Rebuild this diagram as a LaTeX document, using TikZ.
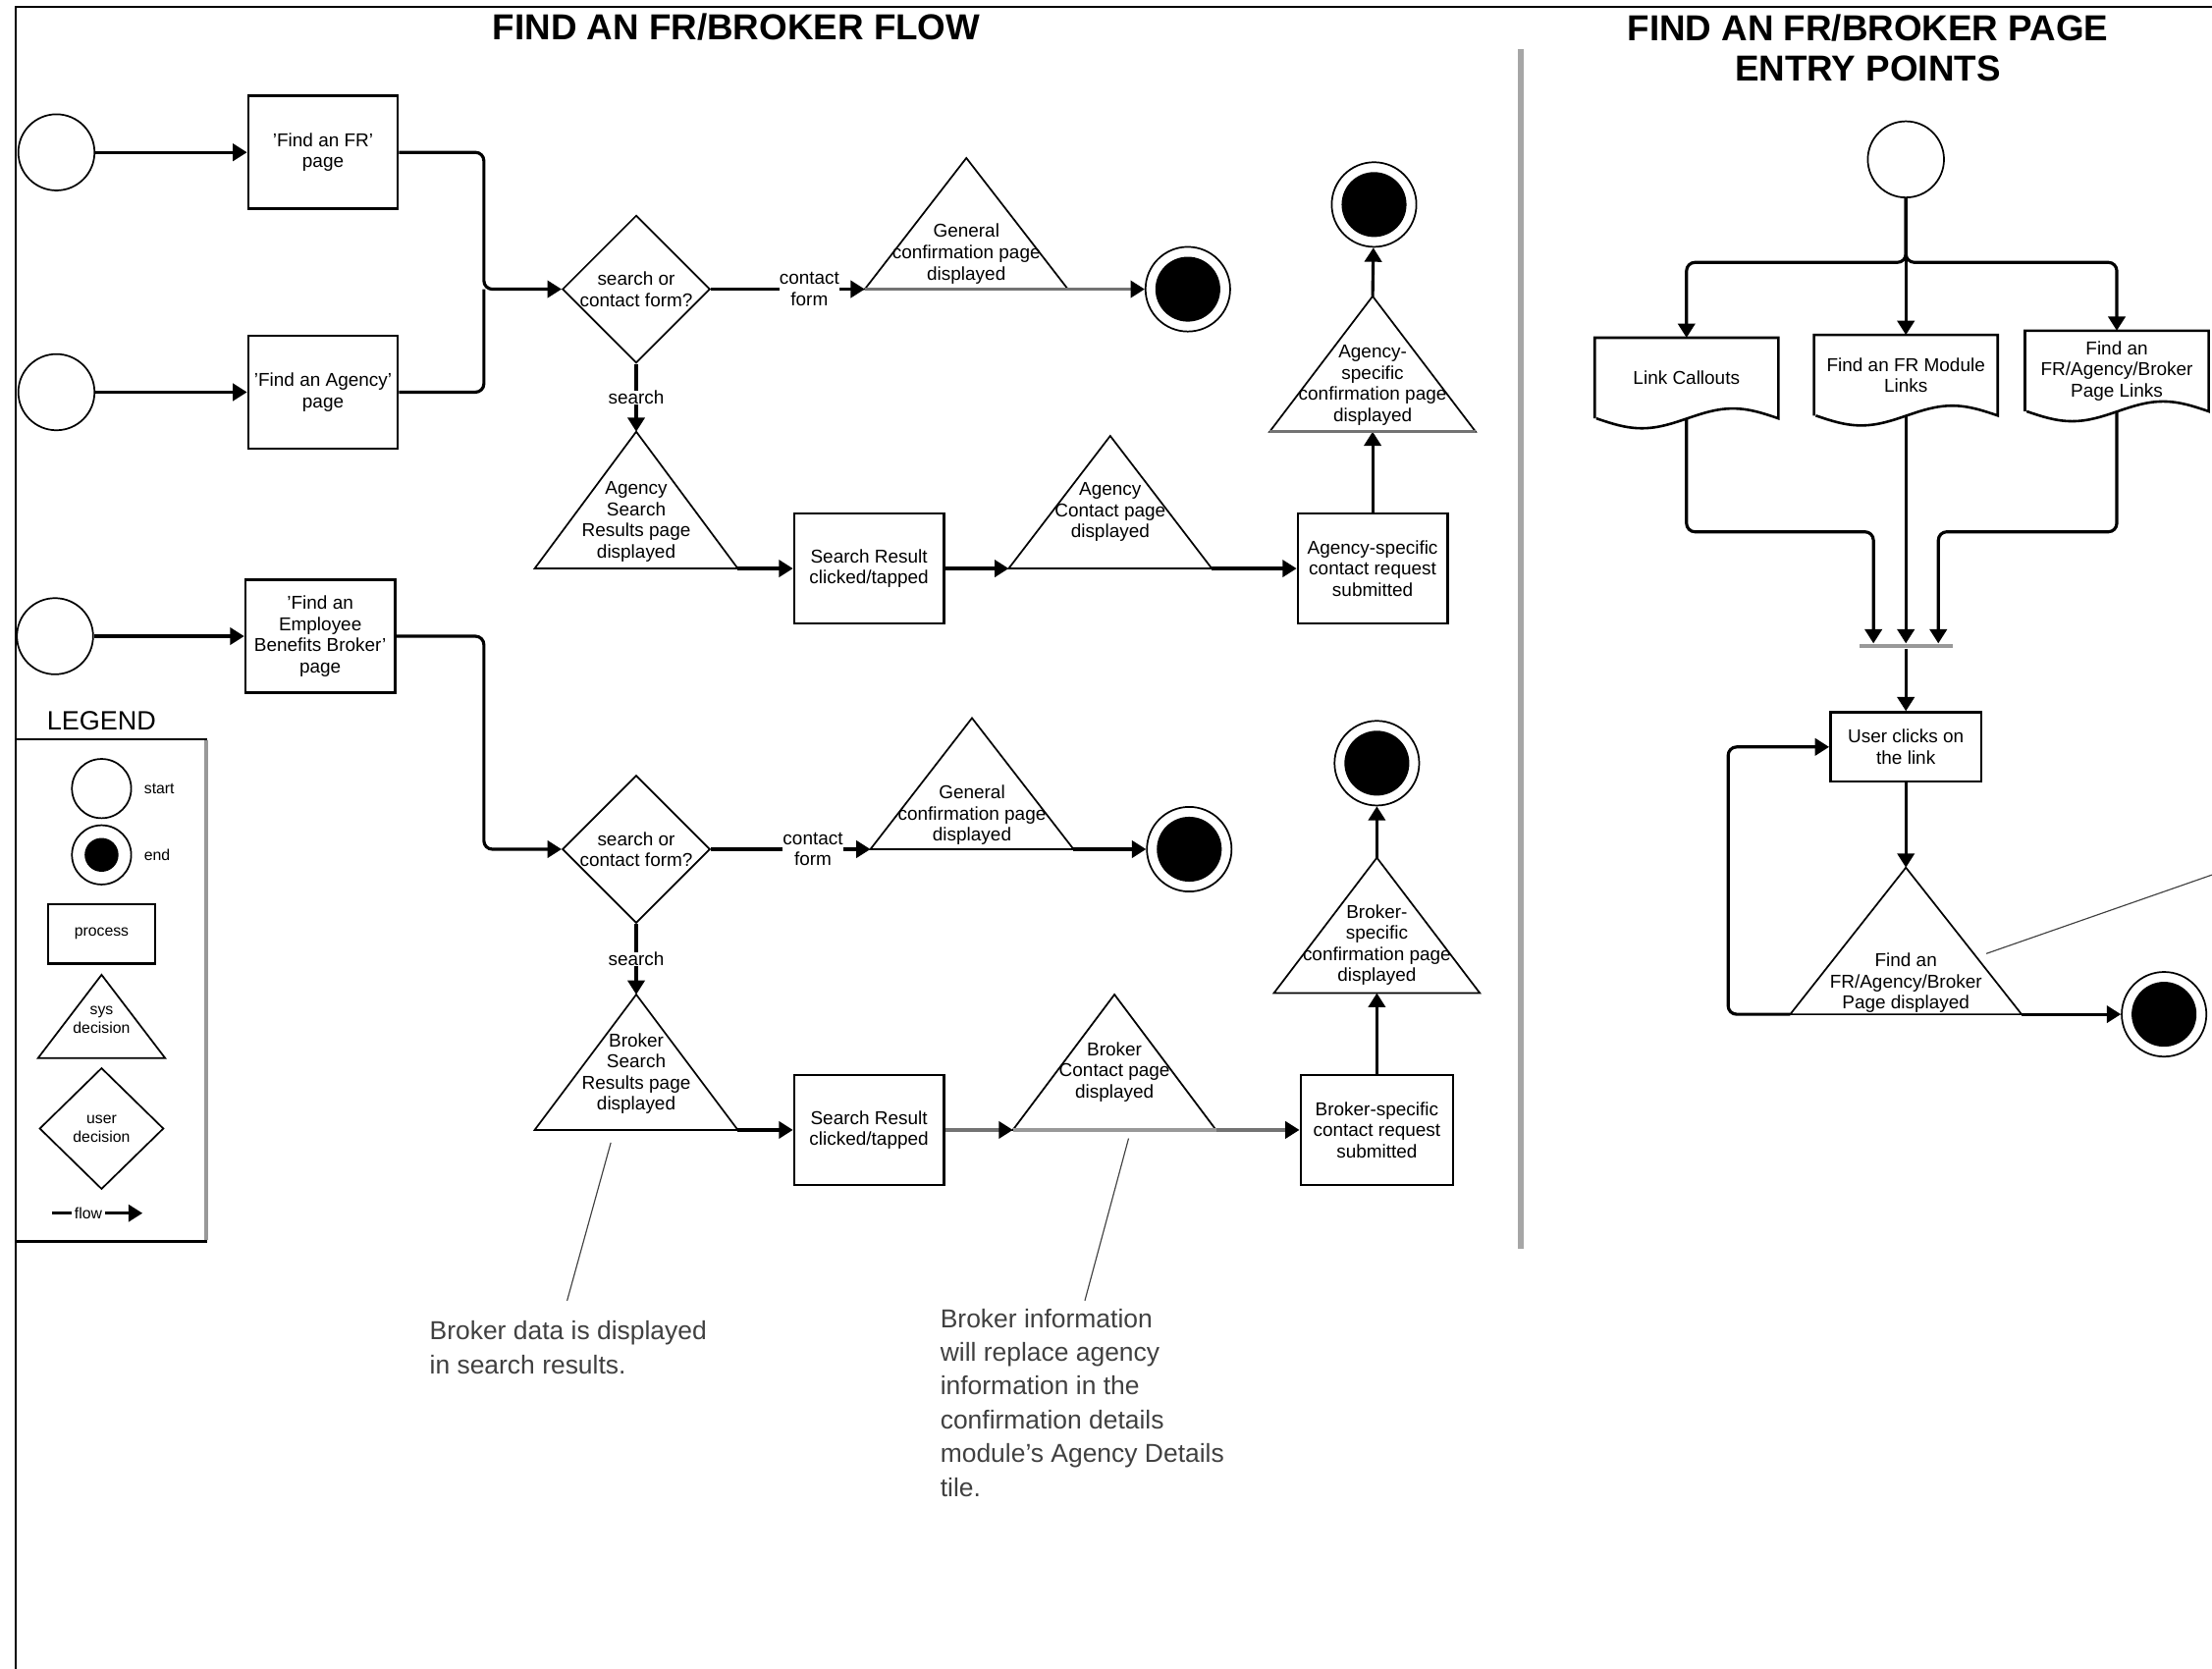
\documentclass[tikz,border=0pt]{standalone}
\usepackage{fontspec}
\setmainfont{Liberation Sans}
\usetikzlibrary{arrows.meta,shapes.geometric,positioning}

% system step as a triangle: [opts] name, x, base y, half width, height, text y, text
\newcommand{\systri}[8][]{%
  \coordinate (#2-l) at (#3-#5,#4);
  \coordinate (#2-r) at (#3+#5,#4);
  \coordinate (#2-t) at (#3,#4-#6);
  \coordinate (#2-b) at (#3,#4);
  \draw[outline] (#2-l) -- (#2-t) -- (#2-r) -- cycle;
  \node[lbl,#1] (#2) at (#3,#7) {#8};}

\begin{document}
\begin{tikzpicture}[x=0.5pt,y=-0.5pt,>={Triangle[length=5pt,width=6pt]},semithick]
  \tikzstyle{lbl}=[inner sep=0pt,align=center,font=\fontsize{6.6}{7.5}\selectfont]
  \tikzstyle{outline}=[line width=0.6pt]
  \tikzstyle{flow}=[->,line width=1.1pt]
  \tikzstyle{dimflow}=[-{Triangle[length=5pt,width=6pt,color=black]},line width=1.1pt,black!55]
  \tikzstyle{line}=[line width=1.1pt]
  \tikzstyle{process}=[rectangle,draw,line width=0.9pt,minimum width=53pt,minimum height=40pt,lbl]
  \tikzstyle{start}=[circle,draw,line width=0.6pt,minimum size=27pt]
  \tikzstyle{endstate}=[circle,draw,line width=0.6pt,minimum size=30pt,
    path picture={\fill (path picture bounding box.center) circle (11.5pt);}]
  \tikzstyle{endkey}=[circle,draw,line width=0.6pt,minimum size=21pt,
    path picture={\fill (path picture bounding box.center) circle (6pt);}]
  \tikzstyle{choice}=[diamond,draw,line width=0.6pt,minimum width=50pt,minimum height=48pt,inner sep=-4pt,lbl]
  \tikzstyle{doc}=[rectangle,minimum width=64.5pt,minimum height=28pt,lbl]
  \tikzstyle{edgelbl}=[fill=white,inner sep=1pt,lbl]
  \tikzstyle{keytxt}=[inner sep=0pt,font=\fontsize{5.5}{6.5}\selectfont]
  \tikzstyle{title}=[align=center,font=\bfseries\fontsize{12.8}{14.5}\selectfont]
  \tikzstyle{note}=[draw=black!75,line width=0.4pt]
  \tikzstyle{notetxt}=[inner sep=0pt,align=left,text=black!75,font=\fontsize{9.2}{12}\selectfont]

  \useasboundingbox (0,0) rectangle (1568,1183);
  \draw[line width=0.8pt] (1600,5) -- (11,5) -- (11,1200);
  \draw[line width=2pt,black!35] (1078,35) -- (1078,885);

  \node[title] (ttl1) at (522,19) {FIND AN FR/BROKER FLOW};
  \node[title] (ttl2) at (1324,34) {FIND AN FR/BROKER PAGE\\ENTRY POINTS};

  % entry pages
  \node[start]   (s1)     at (40,108)  {};
  \node[start]   (s2)     at (40,278)  {};
  \node[start]   (s3)     at (39,451)  {};
  \node[process] (frpage) at (229,108) {'Find an FR'\\page};
  \node[process] (agpage) at (229,278) {'Find an Agency'\\page};
  \node[process] (ebb)    at (227,451) {'Find an\\Employee\\Benefits Broker'\\page};

  % agency branch
  \node[choice] (dec1) at (451,205) {search or\\contact form?};
  \systri{gen1}{685}{205}{72}{93}{180}{General\\confirmation page\\displayed}
  \node[endstate] (e1) at (842,205) {};
  \systri{ars}{451}{403}{72}{97}{370}{Agency\\Search\\Results page\\displayed}
  \node[process,minimum height=39pt] (sr1) at (616,403) {Search Result\\clicked/tapped};
  \systri{acp}{787}{403}{72}{94}{363}{Agency\\Contact page\\displayed}
  \node[process,minimum height=39pt] (asub) at (973,403) {Agency-specific\\contact request\\submitted};
  \systri{acf}{973}{306}{73}{96}{273}{Agency-\\specific\\confirmation page\\displayed}
  \node[endstate] (e2) at (974,145) {};

  % broker branch
  \node[choice] (dec2) at (451,602) {search or\\contact form?};
  \systri{gen2}{689}{602}{72}{93}{578}{General\\confirmation page\\displayed}
  \node[endstate] (e3) at (843,602) {};
  \systri{brs}{451}{801}{72}{96}{761}{Broker\\Search\\Results page\\displayed}
  \node[process,minimum height=39pt] (sr2) at (616,801) {Search Result\\clicked/tapped};
  \systri{bcp}{790}{801}{72}{96}{760}{Broker\\Contact page\\displayed}
  \node[process,minimum width=54pt,minimum height=39pt] (bsub) at (976,801) {Broker-specific\\contact request\\submitted};
  \systri{bcf}{976}{704}{73}{96}{670}{Broker-\\specific\\confirmation page\\displayed}
  \node[endstate] (e4) at (976,541) {};

  \coordinate (j1) at (343,205);
  \coordinate (j2) at (343,602);

  \draw[flow] (s1) -- (frpage);
  \draw[flow] (s2) -- (agpage);
  \draw[flow] (s3) -- (ebb);
  \draw[flow,rounded corners=3pt] (frpage.east) -| (j1) -- (dec1.west);
  \draw[line,rounded corners=3pt] (agpage.east) -| (j1);
  \draw[flow] (dec1.east) -- node[edgelbl,pos=0.64] (cf1) {contact\\form} (gen1-l);
  \draw[line,black!55] (gen1-l) -- (gen1-r);
  \draw[dimflow] (gen1-r) -- (e1);
  \draw[flow] (dec1.south) -- node[edgelbl] (sl1) {search} (ars-t);
  \draw[flow] (ars-r) -- (sr1);
  \draw[flow] (sr1) -- (acp-l);
  \draw[flow] (acp-r) -- (asub);
  \draw[flow] (asub) -- (acf-b);
  \draw[line,black!55] (acf-l) -- (acf-r);
  \draw[flow] (acf-t) -- (e2);

  \draw[flow,rounded corners=3pt] (ebb.east) -| (j2) -- (dec2.west);
  \draw[flow] (dec2.east) -- node[edgelbl,pos=0.64] (cf2) {contact\\form} (gen2-l);
  \draw[flow] (gen2-r) -- (e3);
  \draw[flow] (dec2.south) -- node[edgelbl] (sl2) {search} (brs-t);
  \draw[flow] (brs-r) -- (sr2);
  \draw[dimflow] (sr2) -- (bcp-l);
  \draw[line,black!40] (bcp-l) -- (bcp-r);
  \draw[dimflow] (bcp-r) -- (bsub);
  \draw[flow] (bsub) -- (bcf-b);
  \draw[flow] (bcf-t) -- (e4);

  % legend
  \node[font=\fontsize{9.4}{11}\selectfont,inner sep=0pt] (lgd) at (72,511) {LEGEND};
  \draw[line width=0.9pt] (11,524) rectangle (146,880);
  \draw[line width=1.5pt,black!40] (146,525) -- (146,879);
  \node[start,minimum size=21pt] (kstart) at (72,559) {};
  \node[keytxt,right=4pt of kstart] (kstartl) {start};
  \node[endkey] (kend) at (72,606) {};
  \node[keytxt,right=4pt of kend] (kendl) {end};
  \node[process,minimum width=38pt,minimum height=21pt,font=\fontsize{5.5}{6.5}\selectfont] (kproc) at (72,662) {process};
  \systri[font=\fontsize{5.5}{6.5}\selectfont]{ksys}{72}{750}{45}{59}{723}{sys\\decision}
  \node[choice,minimum width=44pt,minimum height=43pt,font=\fontsize{5.5}{6.5}\selectfont] (kuser) at (72,800) {user\\decision};
  \coordinate (kf1) at (37,860);
  \coordinate (kf2) at (101,860);
  \draw[flow] (kf1) -- node[keytxt,fill=white,inner xsep=1pt,pos=0.4] (kflow) {flow} (kf2);

  % notes
  \coordinate (c1a) at (433,810);
  \coordinate (c1b) at (402,922);
  \draw[note] (c1a) -- (c1b);
  \node[notetxt,anchor=north west] (n1) at (304,936) {Broker data is displayed\\in search results.};
  \coordinate (c2a) at (800,807);
  \coordinate (c2b) at (769,922);
  \draw[note] (c2a) -- (c2b);
  \node[notetxt,anchor=north west] (n2) at (666,927) {Broker information\\will replace agency\\information in the\\confirmation details\\module's Agency Details\\tile.};

  % entry points
  \node[start] (rs) at (1351,113) {};
  \coordinate (split) at (1351,186);
  \node[doc] (lc) at (1195.5,268) {Link Callouts};
  \node[doc] (fm) at (1351,266) {Find an FR Module\\Links};
  \node[doc] (fl) at (1500.5,263) {Find an\\FR/Agency/Broker\\Page Links};
  \foreach \d in {lc,fm,fl}
    \draw[line width=0.9pt] (\d.south west) -- (\d.north west) -- (\d.north east) -- (\d.south east)
      sin ++(-32.25,-7) cos ++(-32.25,7) sin ++(-32.25,7) cos ++(-32.25,-7);

  \draw[flow,rounded corners=3pt] (rs.south) -- (split) -| (lc.north);
  \draw[flow,rounded corners=3pt] (rs.south) -- (split) -| (fl.north);
  \draw[flow] (rs.south) -- (fm.north);

  \node[rectangle,fill=black!40,minimum width=33pt,minimum height=1.3pt,inner sep=0pt] (bar) at (1351,458) {};
  \coordinate (lk1) at (1328,377);
  \coordinate (lk2) at (1374,377);
  \draw[flow,rounded corners=3pt] (lc.south) |- (lk1) -- (lk1 |- bar.north);
  \draw[flow] (fm.south) -- (fm.south |- bar.north);
  \draw[flow,rounded corners=3pt] (fl.south) |- (lk2) -- (lk2 |- bar.north);

  \node[process,minimum width=53.5pt,minimum height=24.5pt] (uclick) at (1351,529.5) {User clicks on\\the link};
  \draw[flow] (bar.south) -- (uclick);
  \systri{rt}{1351}{719}{82}{104}{697}{Find an\\FR/Agency/Broker\\Page displayed}
  \draw[flow] (uclick) -- (rt-t);
  \coordinate (lp) at (1225,719);
  \draw[flow,rounded corners=3pt] (rt-l) -- (lp) |- (uclick.west);
  \node[endstate] (e5) at (1534,719) {};
  \draw[flow] (rt-r) -- (e5);

  \coordinate (c3a) at (1408,676);
  \coordinate (c3b) at (1600,609);
  \draw[note] (c3a) -- (c3b);
\end{tikzpicture}
\end{document}
